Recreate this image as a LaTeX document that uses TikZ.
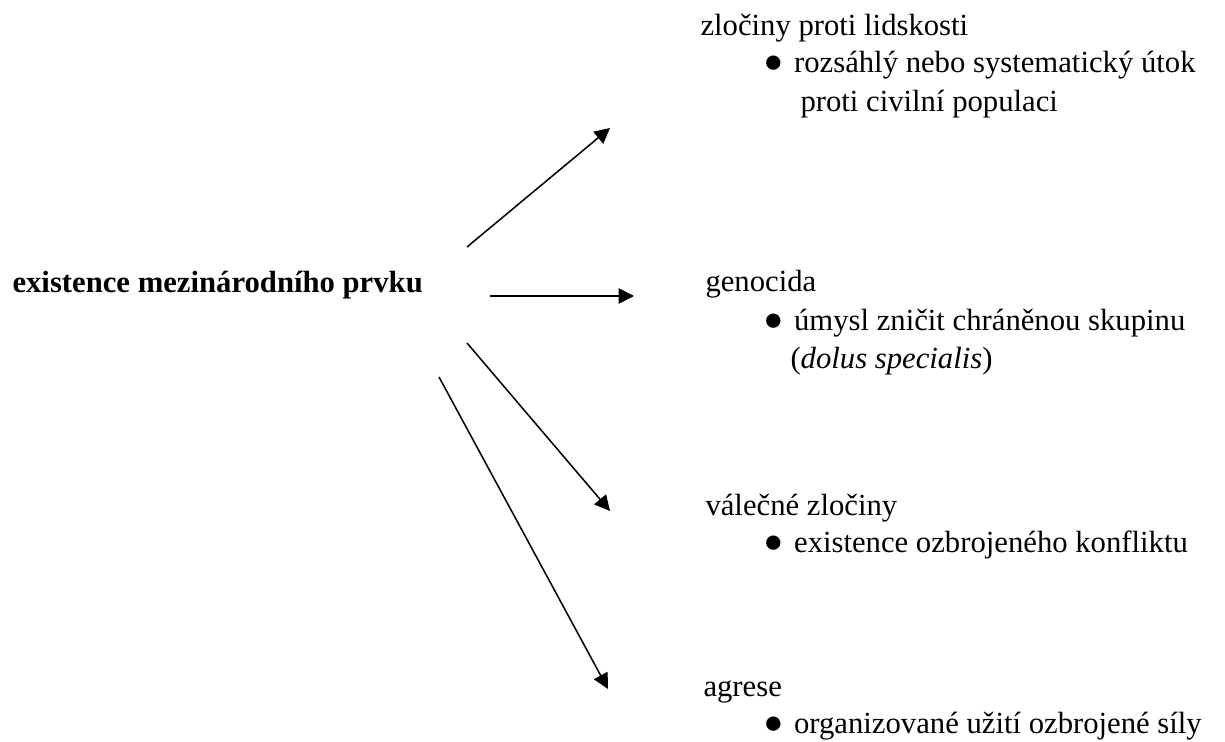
\documentclass[tikz,border=0pt]{standalone}
\usepackage{fontspec}
\setmainfont{Liberation Serif}
\usepackage{tikz}
\usetikzlibrary{arrows.meta}
\tikzset{
    txt/.style = {inner sep=0pt, anchor=base west, font=\fontsize{12pt}{14pt}\selectfont},
    arr/.style = {line width=0.6pt, -{Triangle[length=6pt, width=6pt]}}
}
\newcommand{\bul}{\makebox[10.4pt][l]{\hspace{-1.6pt}\fontsize{13pt}{14pt}\selectfont ●}}

\begin{document}
\begin{tikzpicture}[x=0.391pt, y=-0.391pt]
    \useasboundingbox (0, 0) rectangle (1225, 742);
    \node [txt, font=\fontsize{12pt}{14pt}\selectfont\bfseries] (main) at (12, 293) {existence mezinárodního prvku};
    \node [txt] (hum) at (700, 36) {zločiny proti lidskosti};
    \node [txt] (hum1) at (767, 73) {\bul rozsáhlý nebo systematický útok};
    \node [txt] (hum2) at (800, 112) {proti civilní populaci};
    \node [txt] (gen) at (705, 292) {genocida};
    \node [txt] (gen1) at (767, 331) {\bul úmysl zničit chráněnou skupinu};
    \node [txt] (gen2) at (790, 368) {(\textit{dolus specialis})};
    \node [txt] (war) at (705, 515) {válečné zločiny};
    \node [txt] (war1) at (767, 552) {\bul existence ozbrojeného konfliktu};
    \node [txt] (agr) at (703, 696) {agrese};
    \node [txt] (agr1) at (767, 733) {\bul organizované užití ozbrojené síly};
    % arrow ends
    \coordinate (s1) at (467, 247);
    \coordinate (e1) at (610, 128);
    \coordinate (s2) at (490, 296);
    \coordinate (e2) at (634, 296);
    \coordinate (s3) at (467, 343);
    \coordinate (e3) at (610, 511);
    \coordinate (s4) at (439, 377);
    \coordinate (e4) at (608, 689);
    \draw [arr] (s1) to (e1);
    \draw [arr] (s2) to (e2);
    \draw [arr] (s3) to (e3);
    \draw [arr] (s4) to (e4);
\end{tikzpicture}
\end{document}
